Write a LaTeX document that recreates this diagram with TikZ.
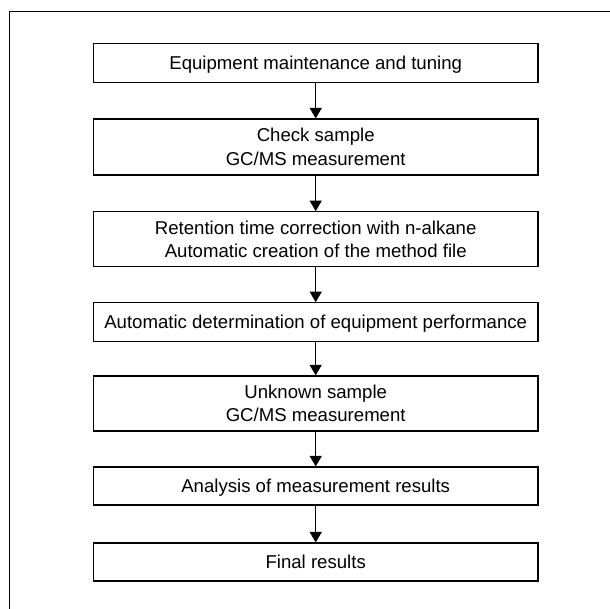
\documentclass[tikz,border=0pt]{standalone}
\usepackage{fontspec}
\setmainfont{Liberation Sans}
\usetikzlibrary{arrows.meta}
\begin{document}
\begin{tikzpicture}[x=1pt,y=-1pt,
  box/.style={draw=black, line width=1.2pt, minimum width=444.6pt, inner sep=0pt,
    align=center, font=\fontsize{18.6}{23.4}\selectfont},
  oneline/.style={text height=15pt, text depth=1.4pt},
  flow/.style={line width=1.3pt, -{Triangle[length=10.5pt,width=12pt]}}]
\useasboundingbox (0,0) rectangle (610,608);
\draw[line width=1.1pt] (9.3,612) -- (9.3,11.3) -- (612,11.3);
\node[box,oneline,minimum height=38.9pt] (b1) at (315.7,63.05) {Equipment maintenance and tuning};
\node[box,minimum height=56pt] (b2) at (315.7,147) {Check sample\\GC/MS measurement};
\node[box,minimum height=54.8pt] (b3) at (315.7,239.1) {Retention time correction with n-alkane\\Automatic creation of the method file};
\node[box,oneline,minimum height=38.5pt] (b4) at (315.7,322) {Automatic determination of equipment performance};
\node[box,minimum height=55pt] (b5) at (315.7,403.4) {Unknown sample\\GC/MS measurement};
\node[box,oneline,minimum height=38pt] (b6) at (315.7,486) {Analysis of measurement results};
\node[box,oneline,minimum height=38pt] (b7) at (315.7,562) {Final results};
\draw[flow] (b1.south) -- (b2.north);
\draw[flow] (b2.south) -- (b3.north);
\draw[flow] (b3.south) -- (b4.north);
\draw[flow] (b4.south) -- (b5.north);
\draw[flow] (b5.south) -- (b6.north);
\draw[flow] (b6.south) -- (b7.north);
\end{tikzpicture}
\end{document}
